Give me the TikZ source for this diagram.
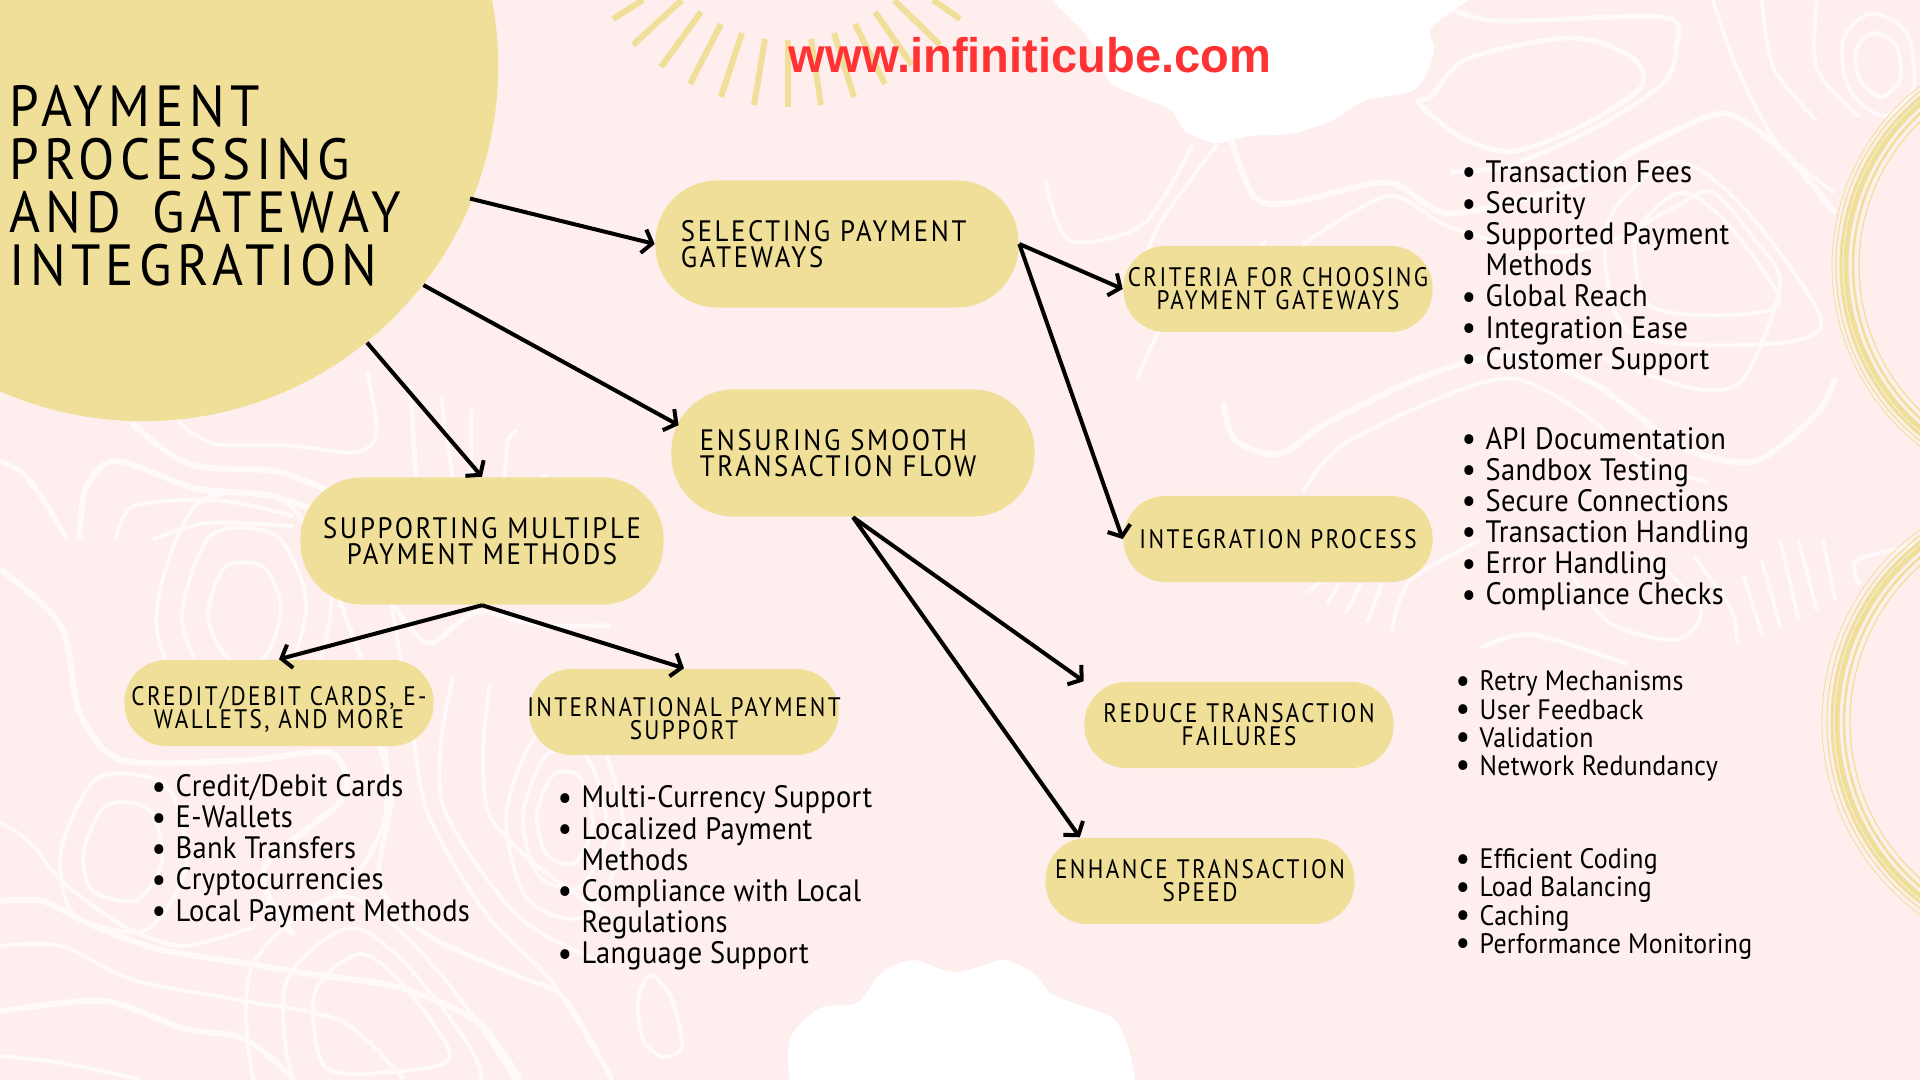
\documentclass[tikz,border=0pt]{standalone}
\usepackage{fontspec}
\usepackage{tikz}
\usetikzlibrary{arrows.meta}
\newfontfamily\titlefont[FakeStretch=0.913,LetterSpace=9,WordSpace=1.6]{PT Sans}
\newfontfamily\bigcapsfont[FakeStretch=0.905,LetterSpace=9,WordSpace=1.6]{PT Sans}
\newfontfamily\capsfont[FakeStretch=0.867,LetterSpace=9,WordSpace=1.6]{PT Sans}
\newfontfamily\listfont[FakeStretch=0.92,LetterSpace=1]{PT Sans}
\newfontfamily\urlfont[FakeStretch=0.97]{Liberation Sans}
\definecolor{bgpink}{HTML}{FEEEEE}
\definecolor{sand}{HTML}{F0DF98}
\definecolor{contourline}{HTML}{FFF9F9}
\definecolor{urlred}{HTML}{FF3333}
\newcommand{\bl}{\makebox[0.24cm][l]{\raisebox{-0.015cm}{\fontsize{10}{10}\selectfont\textbullet}}}
\newcommand{\blgap}{\hspace*{0.24cm}}
\newcommand{\rings}[3]{\foreach \s in {#2} \draw[contour, shift={#1}, scale=\s] plot[smooth cycle] coordinates {#3};}
\newcommand{\wave}[2][]{\draw[contour, #1] plot[smooth] coordinates {#2};}
\tikzset{
	contour/.style={draw=contourline, line width=0.04cm},
	pill/.style={fill=sand, rounded corners=0.42cm, inner sep=0pt, minimum width=3.09cm, minimum height=0.86cm, text width=3.09cm, align=center, font=\capsfont\fontsize{7.6}{6.6}\selectfont},
	bigpill/.style={pill, rounded corners=0.62cm, minimum width=3.63cm, minimum height=1.27cm, text width=3.3cm, font=\bigcapsfont\fontsize{8.4}{7.4}\selectfont},
	blist/.style={anchor=west, inner sep=0pt, align=left, font=\listfont\fontsize{8.8}{8.85}\selectfont},
	slist/.style={blist, font=\listfont\fontsize{8.0}{8.0}\selectfont},
	link/.style={draw=black, line width=0.04cm, -{Straight Barb[length=0.9mm,width=2.4mm]}},
	ray/.style={draw=sand, line width=0.06cm},
	ring/.style={draw=sand}
}
\begin{document}
\begin{tikzpicture}[x=0.01cm, y=-0.01cm]
\useasboundingbox (0,0) rectangle (1920,1080);
\clip (0,0) rectangle (1920,1080);
\fill[bgpink] (0,0) rectangle (1920,1080);

\begin{scope}
\clip (0,430) -- (170,410) -- (340,360) -- (530,430) -- (620,650) -- (800,800) -- (900,900) -- (870,1080) -- (0,1080) -- cycle;
\rings{(245,612)}{1,1.7,2.4}{(-20,-45) (18,-45) (36,-5) (20,45) (-15,48) (-37,5)}
\rings{(380,1012)}{1,1.45,2}{(-65,-20) (-20,-58) (25,-25) (70,45) (10,60) (-55,55)}
\rings{(658,1015)}{1}{(-8,-40) (12,-20) (24,30) (5,42) (-15,25) (-20,-15)}
\rings{(565,815)}{1,1.5,2.1}{(-12,-40) (15,-38) (28,10) (10,48) (-18,40) (-28,0)}
\rings{(122,850)}{1,1.6}{(-15,-45) (28,-40) (40,10) (15,50) (-30,40) (-38,0)}
\begin{scope}[xscale=0.612, yscale=0.344]
\wave[line width=0.06cm]{(215,1230) (310,1350) (450,1370) (540,1430)}
\wave{(290,1225) (350,1290) (470,1295) (580,1315) (615,1260) (600,1080)}
\wave[line width=0.06cm]{(130,1568) (140,1420) (190,1340) (320,1420) (440,1440) (540,1500)}
\wave{(190,1568) (220,1470) (360,1455) (480,1500)}
\wave[line width=0.05cm]{(0,1340) (40,1380) (80,1480) (110,1568)}
\wave[line width=0.05cm]{(680,1390) (670,1120)}
\wave{(740,1390) (720,1150)}
\wave{(770,1390) (770,1190)}
\wave{(825,1390) (830,1280) (845,1250)}
\wave{(885,1390) (925,1350)}
\wave{(250,1568) (340,1520) (480,1530)}
\end{scope}
\begin{scope}[shift={(0,540)}, xscale=0.612, yscale=0.344]
\wave[line width=0.06cm]{(0,1050) (70,1050) (150,1120) (260,1190) (400,1230) (500,1260) (650,1300) (780,1400) (850,1568)}
\wave{(0,1180) (100,1180) (220,1280) (400,1340) (560,1400) (660,1568)}
\wave[line width=0.06cm]{(0,1370) (170,1340) (300,1420) (400,1450) (480,1568)}
\wave{(0,1500) (100,1520) (230,1568)}
\wave{(0,820) (50,880) (100,990) (200,1120) (300,1180) (420,1120)}
\wave[line width=0.05cm]{(620,600) (640,750) (620,1000) (700,1150) (850,1270) (920,1330) (1000,1568)}
\wave[line width=0.05cm]{(640,180) (700,300) (780,210) (900,250) (1160,240)}
\wave[line width=0.06cm]{(0,85) (100,250) (130,500) (200,640) (400,640) (540,620) (560,750) (430,960) (480,1150)}
\wave[line width=0.05cm]{(530,0) (560,200) (620,500) (630,800) (570,1000) (480,1100)}
\wave{(640,190) (670,500) (700,800) (800,1100) (900,1280) (1000,1568)}
\wave{(740,400) (720,600) (730,800) (850,1100) (1000,1240)}
\wave{(800,420) (790,600) (800,800) (880,950) (1000,1100)}
\end{scope}
\end{scope}

\begin{scope}
\clip (1040,170) -- (1060,330) -- (1200,480) -- (1300,590) -- (1390,635) -- (1620,668) -- (1780,640) -- (1920,600) -- (1920,0) -- (1050,0) -- cycle;
\rings{(1694,255)}{1,1.5}{(-58,-20) (-15,-62) (30,-35) (85,45) (35,60) (-45,50)}
\rings{(1878,65)}{1,1.6}{(-5,-32) (18,-20) (22,15) (3,32) (-18,15) (-22,-15)}
\begin{scope}[shift={(960,0)}, xscale=0.612, yscale=0.344]
\draw[contour, line width=0.05cm] plot[smooth cycle] coordinates {(770,280) (830,170) (1000,110) (1100,170) (1110,260) (1000,380) (900,440) (820,400) (750,300)};
\wave[line width=0.05cm]{(780,0) (870,60) (1150,50) (1170,140) (1150,240) (1050,360) (900,480) (800,500)}
\wave[line width=0.06cm]{(440,390) (480,570) (540,590) (700,530) (800,620) (1000,540) (1100,440) (1220,340) (1270,340) (1350,450) (1430,620)}
\wave{(560,710) (700,570) (800,660) (950,730) (1050,710) (1170,600) (1230,560) (1300,700) (1340,830) (1280,1100) (1200,1130) (1050,1040)}
\wave{(1230,0) (1270,200) (1340,430) (1430,560)}
\wave{(1310,0) (1330,200) (1400,350)}
\wave{(1400,0) (1400,200) (1470,340)}
\wave{(500,700) (400,850) (330,950) (290,1100)}
\wave[line width=0.06cm]{(430,1170) (450,1280) (520,1320) (600,1230) (750,1100) (900,1030) (1040,1120) (1180,1300) (1300,1340) (1400,1200) (1430,1100)}
\wave{(560,1430) (620,1300) (780,1160) (900,1100) (1000,1180) (1120,1340) (1220,1400)}
\wave{(380,420) (300,650) (180,700) (140,530)}
\wave{(420,420) (330,640) (290,800)}
\end{scope}
\begin{scope}[shift={(960,540)}, xscale=0.612, yscale=0.344]
\wave{(565,155) (590,120)}
\wave{(600,185) (620,125)}
\wave{(630,215) (655,125)}
\wave{(665,240) (690,125)}
\wave{(705,270) (735,120) (850,0)}
\wave{(1000,100) (1060,240) (1170,290) (1210,200) (1130,50)}
\wave[line width=0.05cm]{(830,335) (890,285) (950,280) (1090,360)}
\wave{(1270,300) (1260,200) (1200,50)}
\wave{(1310,275) (1280,100)}
\wave{(1340,250) (1310,60)}
\wave{(1370,230) (1340,0)}
\wave{(1400,205) (1370,0)}
\wave{(1430,175) (1410,0)}
\wave{(1470,130) (1465,60) (1560,15)}
\end{scope}
\end{scope}

\foreach \xa/\ya/\xb/\yb in {613/19/643/0, 633/45/682/0, 661/67/701/12, 690/84/721/24, 721/97/742/33, 754/105/765/39, 788/107/788/40, 821/105/811/39, 854/97/834/33, 885/84/855/24, 912/65/875/12, 940/45/894/0, 960/19/933/0}
	\draw[ray] (\xa,\ya) -- (\xb,\yb);

\fill[white] plot[smooth] coordinates {(1052,-10) (1052,0) (1090,40) (1110,82) (1144,98) (1171,110) (1186,132) (1217,143) (1248,136) (1290,134) (1333,120) (1364,101) (1416,89) (1434,52) (1431,28) (1468,0) (1468,-10)};
\fill[white] plot[smooth] coordinates {(790,1090) (790,1039) (820,1008) (857,1003) (881,973) (912,960) (943,970) (960,972) (984,965) (1006,960) (1033,973) (1052,994) (1082,1006) (1113,1018) (1128,1046) (1137,1090)};

\foreach \r/\w in {228/0.008, 224/0.012, 219/0.03, 214/0.05, 207/0.025, 201/0.012}
	\draw[ring, line width=\w cm] (2060,266) circle (\r);
\foreach \r/\w in {238/0.008, 233/0.012, 228/0.03, 223/0.05, 216/0.025, 210/0.012}
	\draw[ring, line width=\w cm] (2060,722) circle (\r);

\node[fill=sand, circle, inner sep=0pt, minimum size=7.1cm] (root) at (143,66) {};
\node[anchor=west, inner sep=0pt, align=left, font=\titlefont\fontsize{16.5}{15.1}\selectfont] (title) at (9,186) {PAYMENT\\PROCESSING\\AND GATEWAY\\INTEGRATION};
\node[font=\urlfont\bfseries\fontsize{13.8}{14}\selectfont, text=urlred, inner sep=0pt] (url) at (1030,55) {www.infiniticube.com};

\node[bigpill, align=left, text width=3.12cm] (sel) at (837,244) {SELECTING PAYMENT\\GATEWAYS};
\node[bigpill, align=left, text width=3.06cm] (ens) at (853,453) {ENSURING SMOOTH\\TRANSACTION FLOW};
\node[bigpill] (sup) at (482,541) {SUPPORTING MULTIPLE\\PAYMENT METHODS};
\node[pill] (crit) at (1278,289) {\makebox[3.09cm]{CRITERIA FOR CHOOSING}\\PAYMENT GATEWAYS};
\node[pill] (integ) at (1278,539) {INTEGRATION PROCESS};
\node[pill] (red) at (1239,725) {REDUCE TRANSACTION\\FAILURES};
\node[pill] (enh) at (1200,881) {ENHANCE TRANSACTION\\SPEED};
\node[pill] (cred) at (279,703) {\rule{0pt}{0.32cm}CREDIT/DEBIT CARDS, E-\\WALLETS, AND MORE};
\node[pill] (intl) at (684,712) {\rule{0pt}{0.32cm}\makebox[3.09cm]{INTERNATIONAL PAYMENT}\\SUPPORT};

\draw[link, shorten <=-0.03cm] (root.-22.5) -- (sel.west);
\draw[link, shorten >=-0.09cm] (root.-38.5) -- (ens.170);
\draw[link] (root.-51) -- (sup.north);
\draw[link] (sel.east) -- (crit.west);
\draw[link] (sel.east) -- (integ.west);
\draw[link] (ens.south) -- (red.north west);
\draw[link] (ens.south) -- (enh.160);
\draw[link] (sup.south) -- (cred.north);
\draw[link] (sup.south) -- (intl.north);

\node[blist] (critlist) at (1461,268) {\bl Transaction Fees\\\bl Security\\\bl Supported Payment\\\blgap Methods\\\bl Global Reach\\\bl Integration Ease\\\bl Customer Support};
\node[blist] (integlist) at (1461,519) {\bl API Documentation\\\bl Sandbox Testing\\\bl Secure Connections\\\bl Transaction Handling\\\bl Error Handling\\\bl Compliance Checks};
\node[blist] (credlist) at (151,851) {\bl Credit/Debit Cards\\\bl E-Wallets\\\bl Bank Transfers\\\bl Cryptocurrencies\\\bl Local Payment Methods};
\node[blist] (intllist) at (557,878) {\bl Multi-Currency Support\\\bl Localized Payment\\\blgap Methods\\\bl Compliance with Local\\\blgap Regulations\\\bl Language Support};
\node[slist] (redlist) at (1455,726) {\bl Retry Mechanisms\\\bl User Feedback\\\bl Validation\\\bl Network Redundancy};
\node[slist] (enhlist) at (1455,904) {\bl Efficient Coding\\\bl Load Balancing\\\bl Caching\\\bl Performance Monitoring};
\end{tikzpicture}
\end{document}
